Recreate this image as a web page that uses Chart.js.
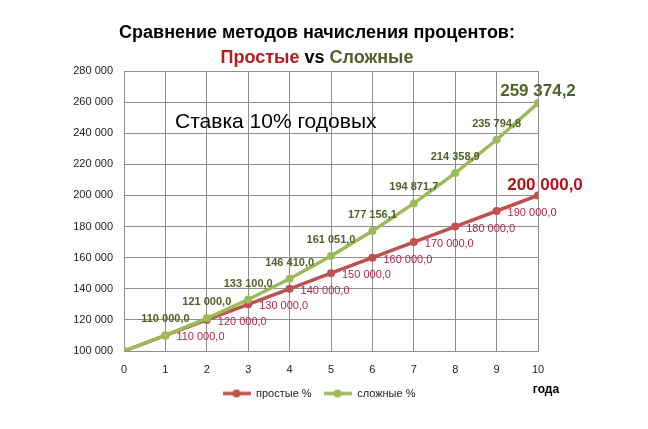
<!DOCTYPE html>
<html>
<head>
<meta charset="utf-8">
<script src="https://cdn.jsdelivr.net/npm/chart.js@4.4.1/dist/chart.umd.min.js"></script>
<style>
  html, body { margin: 0; padding: 0; background: #fff; }
  #wrap { width: 648px; height: 429px; }
</style>
</head>
<body>
<div id="wrap"><canvas id="rateChart" width="648" height="429"></canvas></div>
<script>
// Data
const years = [0, 1, 2, 3, 4, 5, 6, 7, 8, 9, 10];
const simpleValues = [100000, 110000, 120000, 130000, 140000, 150000, 160000, 170000, 180000, 190000, 200000];
const compoundValues = [100000, 110000, 121000, 133100, 146410, 161051, 177156.1, 194871.7, 214358.9, 235794.8, 259374.2];
const yTicks = [100000, 120000, 140000, 160000, 180000, 200000, 220000, 240000, 260000, 280000];
const seriesNames = ['простые %', 'сложные %'];

const FONT = '"Liberation Sans", Arial, sans-serif';
const RED = '#C0504D';
const GREEN = '#9BBB59';

// "110 000,0" style
function fmt(v, dec) {
    const parts = v.toFixed(dec).split('.');
    const int = parts[0].replace(/\B(?=(\d{3})+(?!\d))/g, ' ');
    return parts.length > 1 ? int + ',' + parts[1] : int;
}

// small line+dot marker for the legend
function legendMarker(color) {
    const c = document.createElement('canvas');
    c.width = 28; c.height = 10;
    const g = c.getContext('2d');
    g.strokeStyle = color;
    g.lineWidth = 3.5;
    g.beginPath(); g.moveTo(0, 5); g.lineTo(28, 5); g.stroke();
    g.fillStyle = color;
    g.beginPath(); g.arc(14, 5, 4, 0, Math.PI * 2); g.fill();
    return c;
}
const markers = [legendMarker(RED), legendMarker(GREEN)];

const textPlugin = {
    id: 'textPlugin',
    afterDatasetsDraw(chart) {
        const ctx = chart.ctx;
        const simpleMeta = chart.getDatasetMeta(0);
        const compMeta = chart.getDatasetMeta(1);
        const last = years.length - 1;
        ctx.save();
        ctx.textBaseline = 'middle';

        // compound labels above points
        compMeta.data.forEach((pt, i) => {
            if (i === 0) return;
            ctx.textAlign = 'center';
            ctx.fillStyle = '#4F6228';
            if (i === last) {
                ctx.font = 'bold 17px ' + FONT;
                ctx.fillText(fmt(compoundValues[i], 1), pt.x, pt.y - 12);
            } else {
                ctx.font = 'bold 11px ' + FONT;
                ctx.fillText(fmt(compoundValues[i], 1), pt.x, pt.y - 16);
            }
        });

        // simple labels to the right of points
        simpleMeta.data.forEach((pt, i) => {
            if (i === 0) return;
            if (i === last) {
                ctx.textAlign = 'center';
                ctx.font = 'bold 17px ' + FONT;
                ctx.fillStyle = '#B0151E';
                ctx.fillText(fmt(simpleValues[i], 1), pt.x + 7, pt.y - 10);
            } else {
                ctx.textAlign = 'left';
                ctx.font = '11px ' + FONT;
                ctx.fillStyle = '#A8284F';
                ctx.fillText(fmt(simpleValues[i], 1), pt.x + 11, pt.y + 2);
            }
        });
        ctx.restore();
    },
    afterDraw(chart) {
        const ctx = chart.ctx;
        ctx.save();
        ctx.textBaseline = 'middle';

        // title, line 1
        ctx.textAlign = 'center';
        ctx.fillStyle = '#000';
        ctx.font = 'bold 18px ' + FONT;
        ctx.fillText('Сравнение методов начисления процентов:', 317, 33);

        // title, line 2 in three colours
        const parts = [['Простые', '#B01E1E'], [' vs ', '#000'], ['Сложные', '#4F6228']];
        let total = 0;
        parts.forEach(p => { total += ctx.measureText(p[0]).width; });
        let x = 317 - total / 2;
        ctx.textAlign = 'left';
        parts.forEach(p => {
            ctx.fillStyle = p[1];
            ctx.fillText(p[0], x, 58);
            x += ctx.measureText(p[0]).width;
        });

        // rate note inside the plot
        ctx.font = '21px ' + FONT;
        ctx.fillStyle = '#000';
        ctx.fillText('Ставка 10% годовых', 175, 122);

        // x axis name
        ctx.textAlign = 'center';
        ctx.font = 'bold 12px ' + FONT;
        ctx.fillText('года', 546, 390);
        ctx.restore();
    }
};

const ctx = document.getElementById('rateChart').getContext('2d');
const rateChart = new Chart(ctx, {
    type: 'line',
    data: {
        labels: years,
        datasets: [{
            label: seriesNames[0],
            data: simpleValues,
            borderColor: RED,
            backgroundColor: RED,
            borderWidth: 3.5,
            pointRadius: 4,
            pointHoverRadius: 4,
            pointBorderWidth: 0,
            tension: 0,
            order: 2
        }, {
            label: seriesNames[1],
            data: compoundValues,
            borderColor: GREEN,
            backgroundColor: GREEN,
            borderWidth: 3.5,
            pointRadius: 4,
            pointHoverRadius: 4,
            pointBorderWidth: 0,
            tension: 0,
            order: 1
        }]
    },
    options: {
        responsive: false,
        animation: false,
        devicePixelRatio: 1,
        layout: {
            padding: { top: 71, right: 10, bottom: 20, left: 0 }
        },
        scales: {
            x: {
                type: 'linear',
                min: 0,
                max: 10,
                grid: { color: '#8E8E8E', drawTicks: false },
                border: { color: '#8E8E8E' },
                ticks: {
                    stepSize: 1,
                    padding: 12,
                    color: '#222',
                    font: { family: FONT, size: 11 }
                },
                afterFit(scale) { scale.height = 25; }
            },
            y: {
                min: 100000,
                max: 280000,
                grid: { color: '#8E8E8E', drawTicks: false },
                border: { color: '#8E8E8E' },
                afterBuildTicks(scale) {
                    scale.ticks = yTicks.map(v => ({ value: v }));
                },
                ticks: {
                    padding: 11,
                    color: '#222',
                    font: { family: FONT, size: 11 },
                    callback: v => fmt(v, 0)
                },
                afterFit(scale) { scale.width = 124; }
            },
            // empty right-hand axis, only keeps the space where the big labels sit
            yRight: {
                position: 'right',
                grid: { display: false },
                border: { display: false },
                ticks: { display: false },
                afterFit(scale) { scale.width = 100; }
            }
        },
        plugins: {
            title: { display: false },
            tooltip: { enabled: false },
            legend: {
                position: 'bottom',
                labels: {
                    usePointStyle: true,
                    pointStyleWidth: 28,
                    boxHeight: 10,
                    padding: 12,
                    color: '#222',
                    font: { family: FONT, size: 11 },
                    sort: (a, b) => a.datasetIndex - b.datasetIndex,
                    generateLabels(chart) {
                        const items = Chart.defaults.plugins.legend.labels.generateLabels(chart);
                        items.forEach(it => { it.pointStyle = markers[it.datasetIndex]; });
                        return items;
                    }
                }
            }
        }
    },
    plugins: [textPlugin]
});
</script>
</body>
</html>
